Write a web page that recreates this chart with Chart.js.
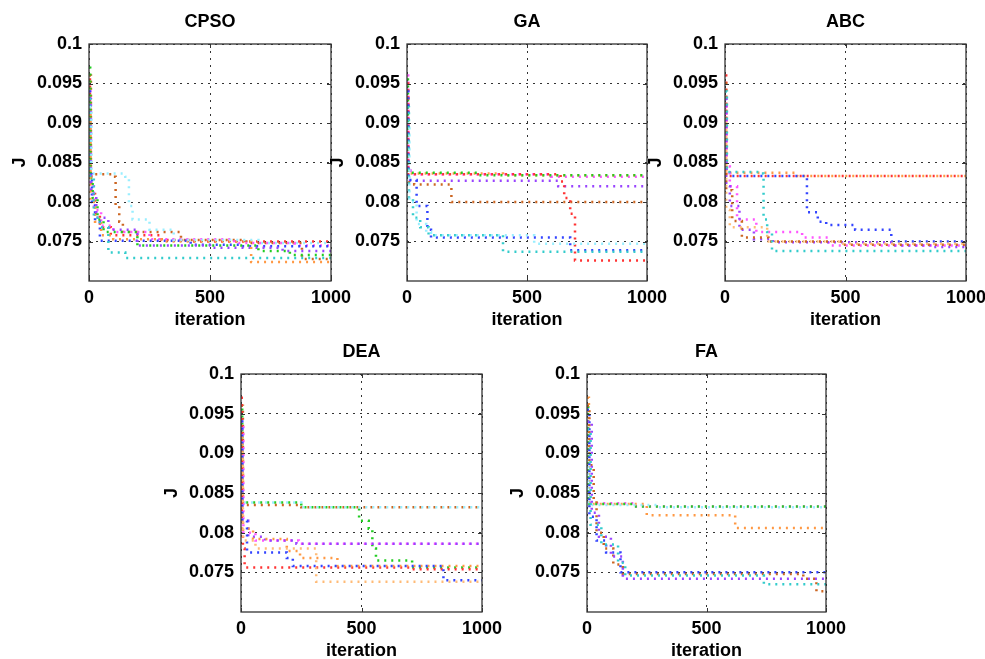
<!DOCTYPE html>
<html>
<head>
<meta charset="utf-8">
<script src="https://cdn.jsdelivr.net/npm/chart.js@4"></script>
<style>
  html, body { margin: 0; padding: 0; background: #fff; overflow: hidden; }
  body { width: 985px; height: 659px; position: relative; }
  canvas { position: absolute; }
</style>
</head>
<body>
<canvas id="cpso"></canvas>
<canvas id="ga"></canvas>
<canvas id="abc"></canvas>
<canvas id="dea"></canvas>
<canvas id="fa"></canvas>
<script>
// best J so far for each run: [iteration where the value changes, J]
const cpsoRed     = [[0,0.0955],[4,0.084],[10,0.081],[25,0.0785],[45,0.0768],[90,0.0758],[300,0.0752],[420,0.0750],[1000,0.0750]];
const cpsoBlue    = [[0,0.094],[4,0.0835],[12,0.0800],[25,0.0775],[45,0.0751],[420,0.0746],[620,0.0744],[1000,0.0744]];
const cpsoGreen   = [[0,0.097],[5,0.0830],[15,0.0805],[35,0.0778],[60,0.0762],[200,0.0745],[700,0.0738],[830,0.0733],[1000,0.0733]];
const cpsoTeal    = [[0,0.093],[5,0.0830],[20,0.0780],[45,0.0768],[80,0.0736],[150,0.0729],[1000,0.0729]];
const cpsoCyan    = [[0,0.092],[10,0.0836],[150,0.0832],[165,0.0795],[180,0.0778],[250,0.0765],[350,0.0752],[700,0.0748],[1000,0.0748]];
const cpsoMagenta = [[0,0.094],[6,0.0820],[20,0.0790],[50,0.0770],[100,0.0762],[250,0.0753],[600,0.0748],[850,0.0745],[1000,0.0745]];
const cpsoViolet  = [[0,0.093],[8,0.0810],[30,0.0780],[80,0.0765],[200,0.0745],[500,0.0742],[800,0.0738],[1000,0.0738]];
const cpsoOrange  = [[0,0.091],[6,0.0800],[25,0.0775],[50,0.0758],[100,0.0753],[300,0.0750],[670,0.0724],[1000,0.0724]];
const cpsoBrown   = [[0,0.096],[8,0.0835],[100,0.0832],[110,0.0795],[125,0.0775],[140,0.0762],[380,0.0752],[650,0.0748],[880,0.0728],[1000,0.0728]];

const gaOrange  = [[0,0.092],[3,0.0836],[400,0.0834],[1000,0.0834]];
const gaGreen   = [[0,0.0955],[4,0.0837],[300,0.0834],[1000,0.0834]];
const gaMagenta = [[0,0.096],[5,0.0840],[15,0.0835],[600,0.0832],[1000,0.0832]];
const gaViolet  = [[0,0.094],[5,0.0827],[630,0.0820],[1000,0.0820]];
const gaBrown   = [[0,0.093],[5,0.0825],[30,0.0822],[185,0.0800],[1000,0.0800]];
const gaRed     = [[0,0.095],[5,0.0835],[640,0.0826],[655,0.0805],[680,0.0785],[700,0.0726],[1000,0.0726]];
const gaBlue    = [[0,0.094],[5,0.0828],[40,0.0795],[85,0.0765],[100,0.0755],[680,0.0739],[1000,0.0739]];
const gaCyan    = [[0,0.090],[10,0.0800],[40,0.0772],[80,0.0762],[100,0.0758],[530,0.0747],[1000,0.0747]];
const gaTeal    = [[0,0.092],[8,0.0805],[25,0.0780],[55,0.0768],[90,0.0758],[400,0.0737],[1000,0.0737]];

const abcRed      = [[0,0.096],[5,0.0833],[1000,0.0833]];
const abcOrange   = [[0,0.092],[5,0.0837],[300,0.0833],[1000,0.0833]];
const abcBlue     = [[0,0.093],[5,0.0842],[20,0.0833],[340,0.0787],[385,0.0775],[420,0.0771],[540,0.0765],[690,0.0750],[1000,0.0750]];
const abcTeal     = [[0,0.094],[8,0.0838],[150,0.0836],[160,0.0778],[175,0.0762],[195,0.0738],[1000,0.0738]];
const abcMagenta  = [[0,0.092],[5,0.0845],[20,0.0820],[50,0.0778],[130,0.0762],[320,0.0755],[430,0.0745],[1000,0.0745]];
const abcViolet   = [[0,0.093],[5,0.0820],[20,0.0795],[60,0.0765],[120,0.0753],[200,0.0749],[700,0.0745],[850,0.0743],[1000,0.0743]];
const abcBrown    = [[0,0.095],[5,0.0815],[30,0.0776],[70,0.0755],[180,0.0750],[480,0.0746],[1000,0.0746]];
const abcPeach    = [[0,0.090],[5,0.0790],[20,0.0768],[175,0.0750],[480,0.0747],[1000,0.0747]];

const deaGreen   = [[0,0.0955],[5,0.0838],[250,0.0832],[490,0.0815],[530,0.0805],[545,0.0780],[560,0.0765],[710,0.0756],[1000,0.0756]];
const deaCyan    = [[0,0.094],[5,0.0838],[250,0.0832],[1000,0.0832]];
const deaBrown   = [[0,0.096],[8,0.0835],[250,0.0832],[1000,0.0832]];
const deaViolet  = [[0,0.093],[5,0.0815],[30,0.0795],[100,0.0790],[230,0.0786],[1000,0.0786]];
const deaMagenta = [[0,0.094],[10,0.0800],[60,0.0790],[240,0.0786],[1000,0.0786]];
const deaOrange  = [[0,0.092],[5,0.0805],[50,0.0792],[190,0.0777],[245,0.0768],[400,0.0758],[1000,0.0758]];
const deaPeach   = [[0,0.090],[8,0.0790],[60,0.0780],[312,0.0738],[1000,0.0738]];
const deaRed     = [[0,0.097],[3,0.0820],[8,0.0780],[15,0.0756],[700,0.0754],[1000,0.0754]];
const deaBlue    = [[0,0.094],[5,0.0815],[25,0.0775],[190,0.0768],[215,0.0758],[840,0.0740],[1000,0.0740]];

const faGreen   = [[0,0.0958],[5,0.0836],[200,0.0833],[1000,0.0833]];
const faMagenta = [[0,0.094],[5,0.0837],[200,0.0833],[1000,0.0833]];
const faOrange  = [[0,0.097],[8,0.0836],[250,0.0822],[620,0.0806],[1000,0.0806]];
const faCyan    = [[0,0.090],[5,0.0835],[300,0.0832],[1000,0.0832]];
const faBrown   = [[0,0.096],[10,0.0885],[28,0.0840],[40,0.0800],[70,0.0780],[110,0.0760],[150,0.0748],[905,0.0742],[960,0.0726],[1000,0.0726]];
const faBlue    = [[0,0.0955],[10,0.0820],[40,0.0790],[80,0.0775],[140,0.0750],[1000,0.0750]];
const faViolet  = [[0,0.094],[20,0.0825],[50,0.0795],[100,0.0770],[150,0.0742],[1000,0.0742]];
const faTeal    = [[0,0.093],[15,0.0810],[60,0.0785],[130,0.0762],[160,0.0746],[740,0.0735],[1000,0.0735]];

const xTicks = [0, 500, 1000];
const yTicks = [0.075, 0.08, 0.085, 0.09, 0.095, 0.1];

const C = {
    red: '#ff3333', blue: '#3344ff', green: '#22cc22', teal: '#33cccc', cyan: '#99eeff',
    magenta: '#ff55ff', violet: '#9944ff', orange: '#ff9944', brown: '#cc6622', peach: '#ffbb77'
};

const fontFamily = '"Liberation Sans", Arial, sans-serif';
const textFont = { family: fontFamily, size: 18, weight: 'bold', lineHeight: 1.2 };

function run(points, color) {
    return {
        data: points.map(p => ({ x: p[0], y: p[1] })),
        borderColor: color,
        borderWidth: 2.5,
        borderDash: [2, 5],
        pointRadius: 0,
        stepped: true,
        fill: false
    };
}

// box round the plot and short inward ticks, as in the figure
const boxPlugin = {
    id: 'box',
    afterDraw(chart) {
        const { ctx, chartArea: a, scales } = chart;
        ctx.save();
        ctx.strokeStyle = '#333';
        ctx.lineWidth = 1.3;
        ctx.strokeRect(a.left, a.top, a.right - a.left, a.bottom - a.top);
        ctx.lineWidth = 1;
        ctx.beginPath();
        yTicks.forEach(v => {
            const y = Math.round(scales.y.getPixelForValue(v)) + 0.5;
            ctx.moveTo(a.left, y); ctx.lineTo(a.left + 4, y);
            ctx.moveTo(a.right, y); ctx.lineTo(a.right - 4, y);
        });
        xTicks.forEach(v => {
            const x = Math.round(scales.x.getPixelForValue(v)) + 0.5;
            ctx.moveTo(x, a.bottom); ctx.lineTo(x, a.bottom - 4);
            ctx.moveTo(x, a.top); ctx.lineTo(x, a.top + 4);
        });
        ctx.stroke();
        ctx.restore();
    }
};

const panels = [
    { id: 'cpso', name: 'CPSO', left: 89, top: 44, w: 242, h: 237,
      runs: [[cpsoCyan, C.cyan], [cpsoTeal, C.teal], [cpsoOrange, C.orange], [cpsoGreen, C.green], [cpsoViolet, C.violet], [cpsoBlue, C.blue], [cpsoMagenta, C.magenta], [cpsoBrown, C.brown], [cpsoRed, C.red]] },
    { id: 'ga', name: 'GA', left: 407, top: 44, w: 240, h: 237,
      runs: [[gaCyan, C.cyan], [gaTeal, C.teal], [gaBlue, C.blue], [gaRed, C.red], [gaBrown, C.brown], [gaViolet, C.violet], [gaGreen, C.green], [gaOrange, C.orange], [gaMagenta, C.magenta]] },
    { id: 'abc', name: 'ABC', left: 725, top: 44, w: 241, h: 237,
      runs: [[abcTeal, C.teal], [abcPeach, C.peach], [abcBrown, C.brown], [abcViolet, C.violet], [abcMagenta, C.magenta], [abcBlue, C.blue], [abcOrange, C.orange], [abcRed, C.red]] },
    { id: 'dea', name: 'DEA', left: 241, top: 374, w: 241, h: 238,
      runs: [[deaPeach, C.peach], [deaBlue, C.blue], [deaOrange, C.orange], [deaRed, C.red], [deaViolet, C.violet], [deaMagenta, C.magenta], [deaCyan, C.cyan], [deaBrown, C.brown], [deaGreen, C.green]] },
    { id: 'fa', name: 'FA', left: 587, top: 374, w: 239, h: 238,
      runs: [[faTeal, C.teal], [faViolet, C.violet], [faBlue, C.blue], [faBrown, C.brown], [faCyan, C.cyan], [faOrange, C.orange], [faGreen, C.green], [faMagenta, C.magenta]] }
];

const AXIS_W = 89, TITLE_H = 44, XAXIS_H = 50, RIGHT_PAD = 30;

panels.forEach(p => {
    const canvas = document.getElementById(p.id);
    canvas.width = AXIS_W + p.w + RIGHT_PAD;
    canvas.height = TITLE_H + p.h + XAXIS_H;
    canvas.style.left = (p.left - AXIS_W) + 'px';
    canvas.style.top = (p.top - TITLE_H) + 'px';

    new Chart(canvas.getContext('2d'), {
        type: 'line',
        data: { datasets: p.runs.map(r => run(r[0], r[1])) },
        options: {
            responsive: false,
            animation: false,
            events: [],
            layout: { padding: { top: 0, right: RIGHT_PAD, bottom: 0, left: 0 } },
            plugins: {
                legend: { display: false },
                tooltip: { enabled: false },
                title: {
                    display: true,
                    fullSize: false,
                    text: p.name,
                    color: '#000',
                    font: textFont,
                    padding: { top: 11, bottom: 11.4 }
                }
            },
            scales: {
                x: {
                    type: 'linear',
                    min: 0,
                    max: 1000,
                    afterBuildTicks: s => { s.ticks = xTicks.map(v => ({ value: v })); },
                    afterFit: s => { s.height = XAXIS_H; },
                    grid: { color: '#333', lineWidth: 1, drawTicks: false },
                    border: { display: false, dash: [2, 5] },
                    ticks: { color: '#000', font: textFont, padding: 6, maxRotation: 0, autoSkip: false,
                             callback: v => String(v) },
                    title: { display: true, text: 'iteration', color: '#000', font: textFont, padding: { top: 0, bottom: 0 } }
                },
                y: {
                    min: 0.07,
                    max: 0.1,
                    afterBuildTicks: s => { s.ticks = yTicks.map(v => ({ value: v })); },
                    afterFit: s => { s.width = AXIS_W; },
                    grid: { color: '#333', lineWidth: 1, drawTicks: false },
                    border: { display: false, dash: [2, 5] },
                    ticks: { color: '#000', font: textFont, padding: 7, autoSkip: false,
                             callback: v => String(+v.toFixed(3)) },
                    title: { display: true, text: 'J', color: '#000', font: textFont, padding: { top: 9, bottom: 0 } }
                }
            }
        },
        plugins: [boxPlugin]
    });
});
</script>
</body>
</html>
